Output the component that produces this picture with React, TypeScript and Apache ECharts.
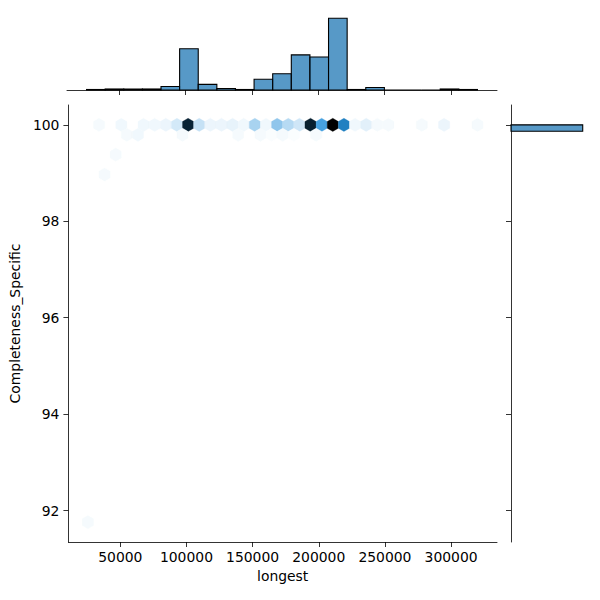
import React, { useEffect, useRef } from "react";
import * as echarts from "echarts";

// ---------- data ----------
const X_LABEL = "longest";
const Y_LABEL = "Completeness_Specific";
const X_TICKS = [50000, 100000, 150000, 200000, 250000, 300000];
const Y_TICKS = [92, 94, 96, 98, 100];

// data extent (min/max of the two variables)
const X_DATA_MIN = 25500;
const X_DATA_MAX = 320000;
const Y_DATA_MIN = 91.76;
const Y_DATA_MAX = 100;

// hexbin cell size (grid of 35 x 20 cells)
const HEX_W = 8414;
const HEX_H = 0.412;

// hexbin cells: centres and counts
const HEX_X = [
  33914, 50742, 67570, 75984, 84398, 92812, 101226, 109640, 118054, 126468,
  134882, 143296, 151710, 160124, 168538, 176952, 185366, 193780, 202194, 210608,
  219022, 227436, 235850, 244264, 252678, 277920, 294748, 319990,
  54949, 63363, 97019, 139089, 155917, 164331, 172745, 181159, 197987,
  46535, 38121, 25500,
];
const HEX_Y = [
  100, 100, 100, 100, 100, 100, 100, 100, 100, 100,
  100, 100, 100, 100, 100, 100, 100, 100, 100, 100,
  100, 100, 100, 100, 100, 100, 100, 100,
  99.794, 99.794, 99.794, 99.794, 99.794, 99.794, 99.794, 99.794, 99.794,
  99.382, 98.97, 91.76,
];
const HEX_COUNT = [
  2, 3, 3, 3, 4, 9, 79, 12, 4, 4,
  5, 3, 18, 3, 23, 15, 10, 80, 38, 90,
  50, 3, 6, 2, 2, 2, 4, 2,
  2, 3, 2, 2, 2, 1, 2, 1, 2,
  2, 2, 2,
];

// marginal histogram of "longest"
const HIST_X_EDGES = [
  25500, 39524, 53548, 67571, 81595, 95619, 109643, 123667, 137690, 151714, 165738,
  179762, 193786, 207810, 221833, 235857, 249881, 263905, 277929, 291952, 305976, 320000,
];
const HIST_X_COUNTS = [1, 2, 2, 2, 7, 81, 11, 3, 1, 21, 32, 69, 65, 141, 1, 5, 0, 0, 0, 2, 1];

// marginal histogram of "Completeness_Specific" (visible bin)
const HIST_Y_LOW = [99.867];
const HIST_Y_HIGH = [100];
const HIST_Y_COUNTS = [434];

// ---------- colour map (seaborn jointplot hex: white -> C0 -> black) ----------
function hexToRgb01(h: string): number[] {
  const n = parseInt(h.slice(1), 16);
  return [((n >> 16) & 255) / 255, ((n >> 8) & 255) / 255, (n & 255) / 255];
}
function rgbToHls(r: number, g: number, b: number): number[] {
  const maxc = Math.max(r, g, b);
  const minc = Math.min(r, g, b);
  const l = (minc + maxc) / 2;
  if (minc === maxc) return [0, l, 0];
  const s = l <= 0.5 ? (maxc - minc) / (maxc + minc) : (maxc - minc) / (2 - maxc - minc);
  const rc = (maxc - r) / (maxc - minc);
  const gc = (maxc - g) / (maxc - minc);
  const bc = (maxc - b) / (maxc - minc);
  let h: number;
  if (r === maxc) h = bc - gc;
  else if (g === maxc) h = 2 + rc - bc;
  else h = 4 + gc - rc;
  h = ((h / 6) % 1 + 1) % 1;
  return [h, l, s];
}
function vFn(m1: number, m2: number, hue: number): number {
  hue = ((hue % 1) + 1) % 1;
  if (hue < 1 / 6) return m1 + (m2 - m1) * hue * 6;
  if (hue < 0.5) return m2;
  if (hue < 2 / 3) return m1 + (m2 - m1) * (2 / 3 - hue) * 6;
  return m1;
}
function hlsToRgb(h: number, l: number, s: number): number[] {
  if (s === 0) return [l, l, l];
  const m2 = l <= 0.5 ? l * (1 + s) : l + s - l * s;
  const m1 = 2 * l - m2;
  return [vFn(m1, m2, h + 1 / 3), vFn(m1, m2, h), vFn(m1, m2, h - 1 / 3)];
}
const BASE = hexToRgb01("#1f77b4");
const [BH, , BS] = rgbToHls(BASE[0], BASE[1], BASE[2]);
const NODES: number[][] = [];
for (let k = 0; k < 12; k++) {
  const l = Math.min(1, Math.max(0, 1 - k / 11));
  NODES.push(hlsToRgb(BH, l, BS).map((v) => Math.min(1, Math.max(0, v))));
}
function cmap(t: number): string {
  const tt = Math.min(1, Math.max(0, t)) * 11;
  const k = Math.min(10, Math.floor(tt));
  const f = tt - k;
  const a = NODES[k];
  const b = NODES[k + 1];
  const c = [0, 1, 2].map((i) => Math.round((a[i] + (b[i] - a[i]) * f) * 255));
  return `rgb(${c[0]},${c[1]},${c[2]})`;
}

// ---------- layout ----------
const FONT = "DejaVu Sans";
const FS = 13.9;
const X_MIN = X_DATA_MIN - 0.05 * (X_DATA_MAX - X_DATA_MIN);
const X_MAX = X_DATA_MAX + 0.05 * (X_DATA_MAX - X_DATA_MIN);
const Y_MIN = Y_DATA_MIN - 0.05 * (Y_DATA_MAX - Y_DATA_MIN);
const Y_MAX = Y_DATA_MAX + 0.05 * (Y_DATA_MAX - Y_DATA_MIN);
const TOP_MAX = Math.max(...HIST_X_COUNTS) * 1.05;
const RIGHT_MAX = Math.max(...HIST_Y_COUNTS) * 1.05;

const HEX_SHAPE = [
  [0.5, -0.5],
  [0.5, 0.5],
  [0, 1],
  [-0.5, 0.5],
  [-0.5, -0.5],
  [0, -1],
];

const lineStyle = { color: "#000", width: 0.8 };
const BAR_FILL = "rgba(31,119,180,0.75)";

export default function App() {
  const ref = useRef<HTMLDivElement>(null);
  useEffect(() => {
    if (!ref.current) return;
    const chart = echarts.init(ref.current, null, { renderer: "svg" });
    const vmax = Math.max(...HEX_COUNT);
    const hexData = HEX_X.map((x, i) => [x, HEX_Y[i], HEX_COUNT[i]]);
    const topData = HIST_X_COUNTS.map((c, i) => [HIST_X_EDGES[i], HIST_X_EDGES[i + 1], c]);
    const rightData = HIST_Y_COUNTS.map((c, i) => [HIST_Y_LOW[i], HIST_Y_HIGH[i], c]);

    chart.setOption({
      animation: false,
      backgroundColor: "#fff",
      textStyle: { fontFamily: FONT },
      grid: [
        { left: 67, top: 105, width: 430, height: 437 },
        { left: 67, top: 14.7, width: 430, height: 75.3 },
        { left: 511, top: 105, width: 75.3, height: 437 },
      ],
      xAxis: [
        {
          gridIndex: 0,
          type: "value",
          min: X_MIN,
          max: X_MAX,
          name: X_LABEL,
          nameLocation: "middle",
          nameGap: 27,
          nameTextStyle: { fontSize: FS, color: "#000", fontFamily: FONT },
          axisLine: { show: true, lineStyle },
          axisTick: { show: true, customValues: X_TICKS, length: 5, lineStyle },
          axisLabel: {
            customValues: X_TICKS,
            formatter: (v: number) => String(v),
            margin: 8,
            fontSize: FS,
            color: "#000",
            fontFamily: FONT,
          },
          splitLine: { show: false },
        },
        {
          gridIndex: 1,
          type: "value",
          min: X_MIN,
          max: X_MAX,
          axisLine: { show: true, lineStyle },
          axisTick: { show: true, customValues: X_TICKS, length: 5, lineStyle },
          axisLabel: { show: false, customValues: X_TICKS },
          splitLine: { show: false },
        },
        { gridIndex: 2, type: "value", min: 0, max: RIGHT_MAX, show: false },
      ],
      yAxis: [
        {
          gridIndex: 0,
          type: "value",
          min: Y_MIN,
          max: Y_MAX,
          name: Y_LABEL,
          nameLocation: "middle",
          nameGap: 42,
          nameTextStyle: { fontSize: FS, color: "#000", fontFamily: FONT },
          axisLine: { show: true, lineStyle },
          axisTick: { show: true, customValues: Y_TICKS, length: 5, lineStyle },
          axisLabel: {
            customValues: Y_TICKS,
            formatter: (v: number) => String(v),
            margin: 9,
            fontSize: FS,
            color: "#000",
            fontFamily: FONT,
          },
          splitLine: { show: false },
        },
        { gridIndex: 1, type: "value", min: 0, max: TOP_MAX, show: false },
        {
          gridIndex: 2,
          type: "value",
          min: Y_MIN,
          max: Y_MAX,
          axisLine: { show: true, lineStyle },
          axisTick: { show: true, customValues: Y_TICKS, length: 5, lineStyle },
          axisLabel: { show: false, customValues: Y_TICKS },
          splitLine: { show: false },
        },
      ],
      series: [
        {
          type: "custom",
          xAxisIndex: 0,
          yAxisIndex: 0,
          data: hexData,
          renderItem: (params: any, api: any) => {
            const p = api.coord([api.value(0), api.value(1)]);
            const s = api.size([HEX_W, HEX_H]);
            const col = cmap(api.value(2) / vmax);
            const pts = HEX_SHAPE.map(([dx, dy]) => [p[0] + dx * s[0], p[1] - (dy * s[1]) / 3]);
            return {
              type: "polygon",
              shape: { points: pts },
              style: { fill: col, stroke: col, lineWidth: 0.3 },
            };
          },
        },
        {
          type: "custom",
          xAxisIndex: 1,
          yAxisIndex: 1,
          data: topData,
          renderItem: (params: any, api: any) => {
            const p0 = api.coord([api.value(0), 0]);
            const p1 = api.coord([api.value(1), api.value(2)]);
            return {
              type: "rect",
              shape: { x: p0[0], y: p1[1], width: p1[0] - p0[0], height: p0[1] - p1[1] },
              style: { fill: BAR_FILL, stroke: "#000", lineWidth: 1.1 },
            };
          },
        },
        {
          type: "custom",
          xAxisIndex: 2,
          yAxisIndex: 2,
          data: rightData,
          renderItem: (params: any, api: any) => {
            const p0 = api.coord([0, api.value(0)]);
            const p1 = api.coord([api.value(2), api.value(1)]);
            return {
              type: "rect",
              shape: { x: p0[0], y: p1[1], width: p1[0] - p0[0], height: p0[1] - p1[1] },
              style: { fill: BAR_FILL, stroke: "#000", lineWidth: 1.1 },
            };
          },
        },
      ],
    });
    return () => chart.dispose();
  }, []);
  return (
    <div
      ref={ref}
      style={{ position: "fixed", left: 0, top: 0, width: 600, height: 600, background: "#fff" }}
    />
  );
}
